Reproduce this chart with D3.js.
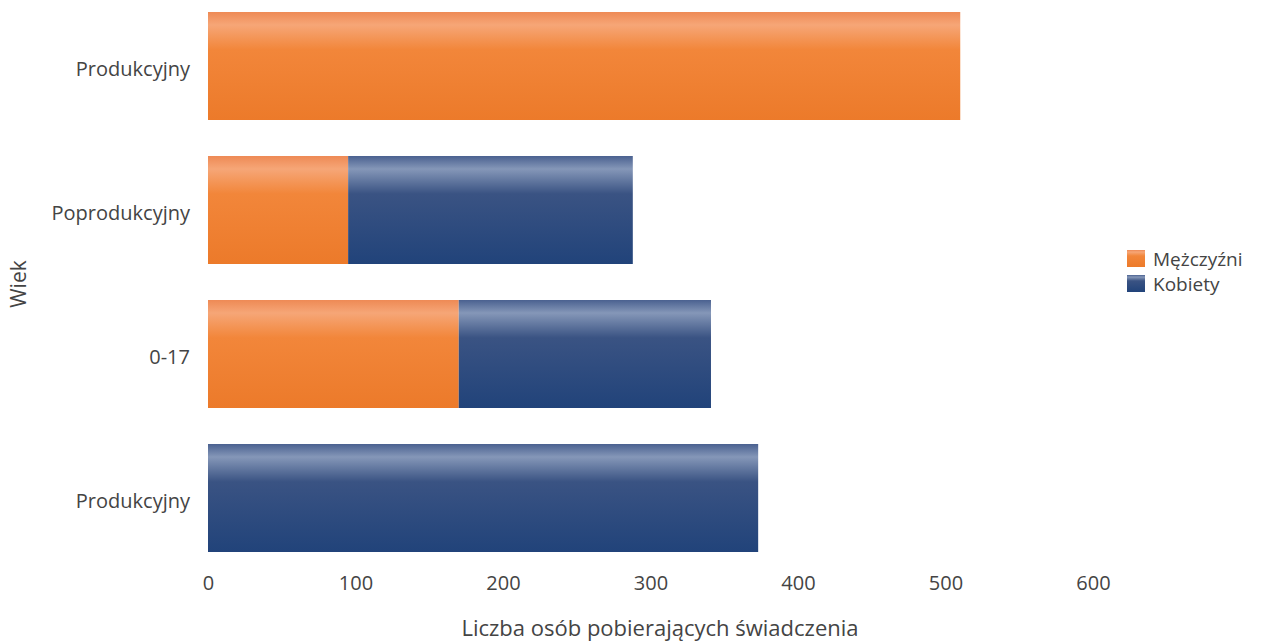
<!DOCTYPE html>
<html><head><meta charset="utf-8">
<script src="https://cdn.jsdelivr.net/npm/d3@7"></script>
<style>body{margin:0;background:#fff}svg{display:block}text{font-family:"Open Sans",sans-serif;fill:#444}</style>
</head><body><svg id="c" width="1263" height="644"></svg>
<script>
const categories = ["Produkcyjny", "Poprodukcyjny", "0-17", "Produkcyjny"];
const men = [510, 95, 170, 0];
const women = [0, 193, 171, 373];
const seriesNames = ["Mężczyźni", "Kobiety"];
const xTicks = [0, 100, 200, 300, 400, 500, 600];

const svg = d3.select("#c");
const defs = svg.append("defs");
function grad(id, stops){
  const g = defs.append("linearGradient").attr("id", id).attr("x1",0).attr("y1",0).attr("x2",0).attr("y2",1);
  stops.forEach(s => g.append("stop").attr("offset", s[0]).attr("stop-color", s[1]));
}
grad("gOrange", [[0,"#ee8a55"],[0.12,"#f6a677"],[0.35,"#f2863a"],[1,"#ec7a2a"]]);
grad("gNavy", [[0,"#4a6190"],[0.12,"#8597b8"],[0.35,"#3a5383"],[1,"#21437a"]]);

const rows = categories.map((c,i)=>({key: i, label: c, men: men[i], women: women[i]}));
const x = d3.scaleLinear().domain([0,600]).range([208,1093]);
const y = d3.scaleBand().domain(rows.map(r=>r.key)).range([-6,570]).paddingInner(0.25).paddingOuter(0.125);

const stack = d3.stack().keys(["men","women"])(rows);
const fills = ["url(#gOrange)","url(#gNavy)"];
svg.append("g").selectAll("g").data(stack).join("g").attr("fill",(d,i)=>fills[i])
  .selectAll("rect").data(d=>d).join("rect")
  .attr("x", d=>x(d[0])).attr("width", d=>Math.max(0, x(d[1])-x(d[0])))
  .attr("y", d=>y(d.data.key)).attr("height", y.bandwidth());

// x axis
const xa = svg.append("g").attr("transform","translate(0,576)")
  .call(d3.axisBottom(x).tickValues(xTicks).tickSize(0).tickPadding(0));
xa.select(".domain").remove();
xa.selectAll("text").style("font-size","20px").attr("fill","#444").attr("dy","0.71em");

// y axis
const ya = svg.append("g").attr("transform","translate(190,4)")
  .call(d3.axisLeft(y).tickFormat(k=>categories[k]).tickSize(0).tickPadding(0));
ya.select(".domain").remove();
ya.selectAll("text").style("font-size","20px").attr("fill","#444");

svg.append("text").attr("x",660).attr("y",636).attr("text-anchor","middle").style("font-size","22px").text("Liczba osób pobierających świadczenia");
svg.append("text").attr("transform","translate(26,284) rotate(-90)").attr("text-anchor","middle").style("font-size","21px").text("Wiek");

// legend
const lg = svg.append("g").attr("transform","translate(1127,250)");
seriesNames.forEach((n,i)=>{
  lg.append("rect").attr("x",0).attr("y",i*25).attr("width",18).attr("height",17).attr("fill",fills[i]);
  lg.append("text").attr("x",26).attr("y",i*25+9).attr("dy","0.35em").style("font-size","19px").text(n);
});
</script></body></html>
